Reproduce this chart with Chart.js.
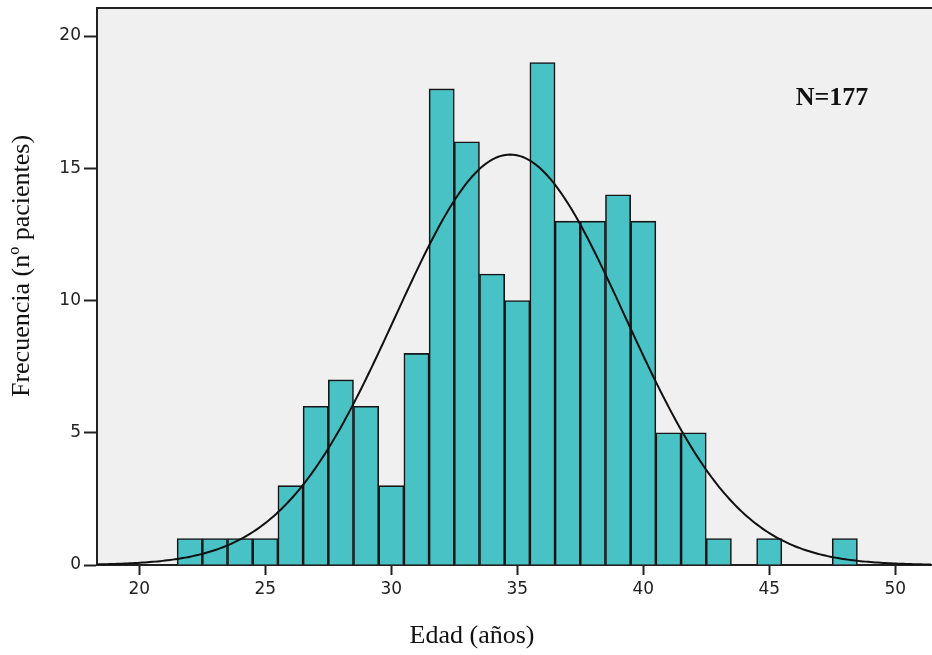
<!DOCTYPE html>
<html>
<head>
<meta charset="utf-8">
<script src="https://cdn.jsdelivr.net/npm/chart.js@4/dist/chart.umd.min.js"></script>
<style>
  html, body { margin: 0; padding: 0; background: #ffffff; }
  #wrap { width: 932px; height: 655px; position: relative; }
</style>
</head>
<body>
<div id="wrap"><canvas id="hist" width="932" height="655"></canvas></div>
<script>
// Age bins (bin centre, 1-year width) and patient counts per bin
const ageBins = [22, 23, 24, 25, 26, 27, 28, 29, 30, 31, 32, 33, 34, 35, 36, 37, 38, 39, 40, 41, 42, 43, 44, 45, 46, 47, 48];
const patientCounts = [1, 1, 1, 1, 3, 6, 7, 6, 3, 8, 18, 16, 11, 10, 19, 13, 13, 14, 13, 5, 5, 1, 0, 1, 0, 0, 1];

// Fitted normal curve parameters
const totalN = 177;
const ageMean = 34.72;
const ageSd = 4.55;
const binWidth = 1;

// Axis ticks and ranges
const xTickValues = [20, 25, 30, 35, 40, 45, 50];
const yTickValues = [0, 5, 10, 15, 20];
const xRange = [18.32, 51.46];
const yRange = [0, 21.06];

const sampleLabel = 'N=' + totalN;
const xTitle = 'Edad (años)';
const yTitle = 'Frecuencia (nº pacientes)';

// Histogram bars as {x, y}
const barPoints = ageBins.map((a, i) => ({ x: a, y: patientCounts[i] }));

// Normal density scaled to counts, sampled across the x range
const curvePoints = [];
for (let x = xRange[0]; x <= xRange[1] + 1e-9; x += 0.1) {
  const z = (x - ageMean) / ageSd;
  const y = totalN * binWidth / (ageSd * Math.sqrt(2 * Math.PI)) * Math.exp(-0.5 * z * z);
  curvePoints.push({ x: x, y: y });
}

const frame = {
  id: 'frame',
  beforeDraw(chart) {
    const { ctx, chartArea: a } = chart;
    ctx.save();
    ctx.fillStyle = '#f0f0f0';
    ctx.fillRect(a.left, a.top, a.right - a.left, a.bottom - a.top);
    ctx.restore();
  },
  afterDraw(chart) {
    const { ctx, chartArea: a } = chart;
    ctx.save();
    // top frame line
    ctx.strokeStyle = '#222';
    ctx.lineWidth = 2;
    ctx.beginPath();
    ctx.moveTo(a.left - 1, a.top);
    ctx.lineTo(a.right, a.top);
    ctx.stroke();

    // sample size annotation
    ctx.fillStyle = '#111';
    ctx.font = 'bold 26px "Liberation Serif", "Times New Roman", serif';
    ctx.textAlign = 'center';
    ctx.textBaseline = 'middle';
    ctx.fillText(sampleLabel, 832, 98);

    // axis titles
    ctx.font = '26px "Liberation Serif", "Times New Roman", serif';
    ctx.fillText(xTitle, 472, 636);
    ctx.translate(22, 266);
    ctx.rotate(-Math.PI / 2);
    ctx.fillText(yTitle, 0, 0);
    ctx.restore();
  }
};

const tickFont = { family: '"DejaVu Sans", Verdana, sans-serif', size: 17 };

new Chart(document.getElementById('hist'), {
  data: {
    datasets: [
      {
        type: 'line',
        data: curvePoints,
        borderColor: '#111111',
        borderWidth: 2,
        pointRadius: 0,
        tension: 0,
        fill: false,
        order: 0
      },
      {
        type: 'bar',
        data: barPoints,
        backgroundColor: '#48c2c5',
        borderColor: '#151515',
        borderWidth: 1.6,
        barPercentage: 1,
        categoryPercentage: 1,
        grouped: false,
        order: 1
      }
    ]
  },
  options: {
    responsive: false,
    animation: false,
    devicePixelRatio: 1,
    layout: { padding: { top: 8, right: 0, left: 0, bottom: 0 } },
    plugins: { legend: { display: false }, tooltip: { enabled: false } },
    scales: {
      x: {
        type: 'linear',
        offset: false,
        min: xRange[0],
        max: xRange[1],
        afterBuildTicks(scale) { scale.ticks = xTickValues.map(v => ({ value: v })); },
        afterFit(scale) { scale.height = 90; scale.paddingLeft = 0; scale.paddingRight = 0; },
        grid: { offset: false, drawOnChartArea: false, drawTicks: true, tickLength: 10, tickColor: '#222', tickWidth: 2 },
        border: { display: true, color: '#222', width: 2 },
        ticks: { padding: 4, color: '#222', maxRotation: 0, autoSkip: false, font: tickFont }
      },
      y: {
        type: 'linear',
        min: yRange[0],
        max: yRange[1],
        afterBuildTicks(scale) { scale.ticks = yTickValues.map(v => ({ value: v })); },
        afterFit(scale) { scale.width = 97; scale.paddingTop = 0; scale.paddingBottom = 0; },
        grid: { drawOnChartArea: false, drawTicks: true, tickLength: 13, tickColor: '#222', tickWidth: 2 },
        border: { display: true, color: '#222', width: 2 },
        ticks: { padding: 3, color: '#222', autoSkip: false, font: tickFont }
      }
    }
  },
  plugins: [frame]
});
</script>
</body>
</html>
